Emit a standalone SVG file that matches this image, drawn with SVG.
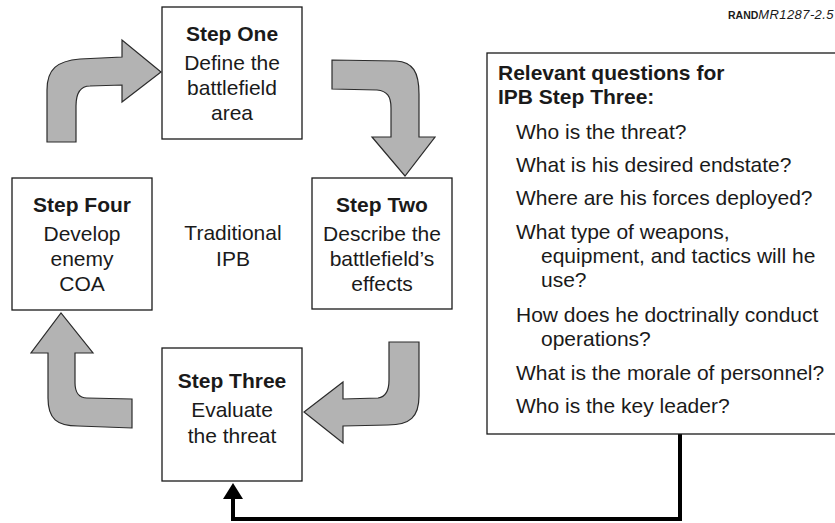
<svg xmlns="http://www.w3.org/2000/svg" width="835" height="523" viewBox="0 0 835 523">
  <style>
    text { font-family: "Liberation Sans", Arial, sans-serif; fill: #1a1a1a; }
    .box { fill: #ffffff; stroke: #1a1a1a; stroke-width: 1.3; }
    .t { font-size: 21px; text-anchor: middle; }
    .b { font-weight: bold; }
    .q { font-size: 21px; }
    .flow { fill: #b3b3b3; stroke: #2b2b2b; stroke-width: 1.2; stroke-linejoin: miter; }
    .link { fill: none; stroke: #000000; stroke-width: 4; }
  </style>
  <defs>
    <marker id="ah" markerUnits="userSpaceOnUse" markerWidth="16" markerHeight="20" viewBox="0 0 16 20" refX="0" refY="10" orient="auto">
      <path d="M0,0 L16,10 L0,20 Z" fill="#000000"/>
    </marker>
  </defs>
  <rect width="835" height="523" fill="#ffffff"/>

  <text x="728" y="19" font-size="10.5"><tspan font-weight="bold">RAND</tspan><tspan font-style="italic" font-size="13" letter-spacing="0.4">MR1287-2.5</tspan></text>

  <g id="connectors">
    <path class="flow" d="M47,142 L47,90 C47,69 57,61 80,59 L122,57 L122,40 L161,72 L122,102 L122,85 L90,86 C81,86 76,93 76,106 L76,142 Z"/>
    <path class="flow" d="M332,60 L396,61 C413,62 419,72 419,94 L419,137 L435,137 L405,176 L372,137 L391,137 L391,108 C391,96 387,91 377,90 L332,89 Z"/>
    <path class="flow" d="M389,342 L419,342 L419,396 C419,417 410,425 388,425 L343,426 L343,443 L304,412 L343,382 L343,399 L378,398 C386,397 389,391 389,380 Z"/>
    <path class="flow" d="M132,399 L87,398 C79,398 75,392 75,383 L75,353 L93,353 L61,313 L31,353 L48,353 L48,398 C48,419 57,426 78,426 L132,428 Z"/>
    <path class="link" d="M680,434 V519 H233 V499" marker-end="url(#ah)"/>
  </g>

  <g id="step-one">
    <rect class="box" x="162" y="7" width="140" height="132"/>
    <text class="t b" x="232" y="41">Step One</text>
    <text class="t" x="232" y="70">Define the</text>
    <text class="t" x="232" y="95">battlefield</text>
    <text class="t" x="232" y="120">area</text>
  </g>

  <g id="step-two">
    <rect class="box" x="312" y="178" width="140" height="131"/>
    <text class="t b" x="382" y="212">Step Two</text>
    <text class="t" x="382" y="241">Describe the</text>
    <text class="t" x="382" y="266">battlefield’s</text>
    <text class="t" x="382" y="291">effects</text>
  </g>

  <g id="step-three">
    <rect class="box" x="162" y="348" width="140" height="133"/>
    <text class="t b" x="232" y="388">Step Three</text>
    <text class="t" x="232" y="417">Evaluate</text>
    <text class="t" x="232" y="443">the threat</text>
  </g>

  <g id="step-four">
    <rect class="box" x="12" y="178" width="140" height="132"/>
    <text class="t b" x="82" y="212">Step Four</text>
    <text class="t" x="82" y="241">Develop</text>
    <text class="t" x="82" y="266">enemy</text>
    <text class="t" x="82" y="291">COA</text>
  </g>

  <g id="traditional-ipb">
    <text class="t" x="233" y="240">Traditional</text>
    <text class="t" x="233" y="266">IPB</text>
  </g>

  <g id="questions">
    <rect class="box" x="487" y="53" width="360" height="381"/>
    <text class="q b" x="498" y="80">Relevant questions for</text>
    <text class="q b" x="498" y="104">IPB Step Three:</text>
    <text class="q" x="516" y="139">Who is the threat?</text>
    <text class="q" x="516" y="172">What is his desired endstate?</text>
    <text class="q" x="516" y="205">Where are his forces deployed?</text>
    <text class="q" x="516" y="239">What type of weapons,</text>
    <text class="q" x="541" y="263">equipment, and tactics will he</text>
    <text class="q" x="541" y="287">use?</text>
    <text class="q" x="516" y="322">How does he doctrinally conduct</text>
    <text class="q" x="541" y="346">operations?</text>
    <text class="q" x="516" y="380">What is the morale of personnel?</text>
    <text class="q" x="516" y="413">Who is the key leader?</text>
  </g>
</svg>
